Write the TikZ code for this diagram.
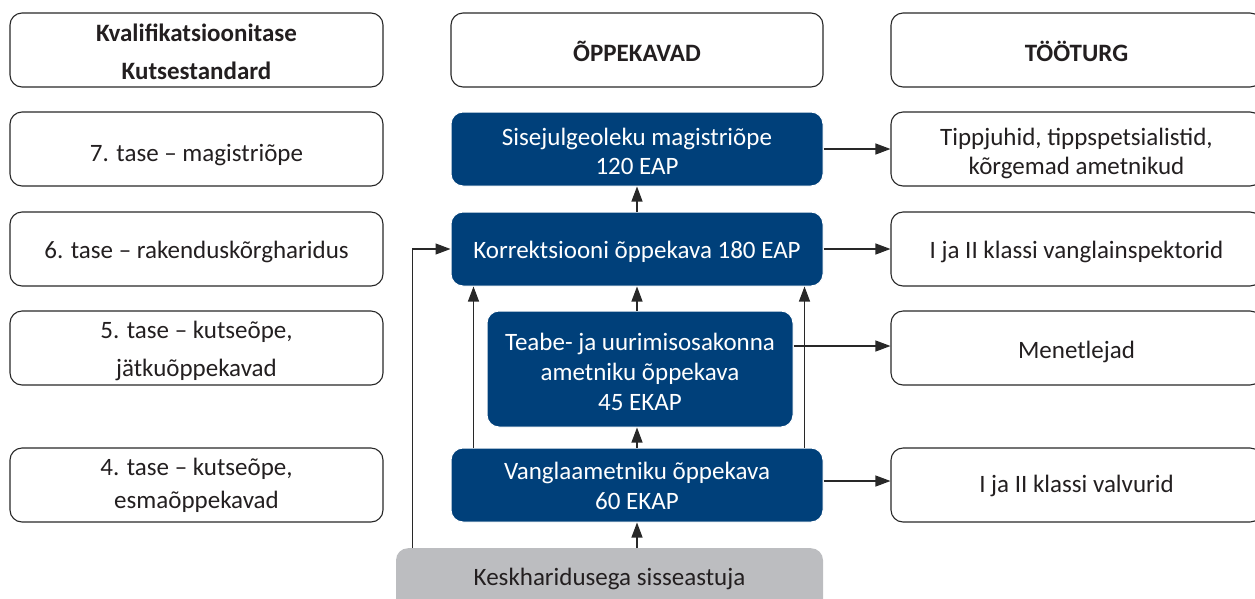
\documentclass[tikz,border=0pt]{standalone}
\usepackage{fontspec}
\setmainfont{Carlito}
\usetikzlibrary{arrows.meta}
\definecolor{navy}{RGB}{0,64,122}
\definecolor{lgray}{RGB}{188,189,192}
\definecolor{txtg}{RGB}{35,31,32}
\definecolor{linec}{RGB}{40,40,40}
\begin{document}
\begin{tikzpicture}[x=1pt,y=-1pt,
  base/.style={rounded corners=12pt,align=center,inner sep=0pt},
  wbox/.style={base,draw=linec,line width=1.1pt,fill=white,minimum height=74pt},
  bbox/.style={base,draw=white,line width=1pt,fill=navy,minimum height=74pt},
  lbl/.style={align=center,inner sep=0pt},
  arr/.style={draw=linec,line width=1.1pt,-{Triangle[length=15pt,width=11pt]}}]
\useasboundingbox (0,0) rectangle (1255,598);
% left column
\node[wbox,minimum width=373pt] (lh) at (196.5,50) {};
\node[lbl,font=\fontsize{25}{38}\selectfont\bfseries,text=txtg] at ([yshift=-2pt]lh.center) {Kvalifikatsioonitase\\Kutsestandard};
\node[wbox,minimum width=373pt] (l7) at (196.5,149) {};
\node[lbl,font=\fontsize{25}{29}\selectfont,text=txtg] at ([yshift=-6pt]l7.center) {7. tase – magistriõpe};
\node[wbox,minimum width=373pt] (l6) at (196.5,249) {};
\node[lbl,font=\fontsize{25}{29}\selectfont,text=txtg] at ([yshift=-3pt]l6.center) {6. tase – rakenduskõrgharidus};
\node[wbox,minimum width=373pt] (l5) at (196.5,348) {};
\node[lbl,font=\fontsize{25}{38}\selectfont,text=txtg] at ([yshift=-3pt]l5.center) {5. tase – kutseõpe,\\jätkuõppekavad};
\node[wbox,minimum width=373pt] (l4) at (196.5,485) {};
\node[lbl,font=\fontsize{25}{33}\selectfont,text=txtg] at ([yshift=0pt]l4.center) {4. tase – kutseõpe,\\esmaõppekavad};
% middle column
\node[wbox,minimum width=372pt] (mh) at (637,50) {};
\node[lbl,font=\fontsize{25}{29}\selectfont\bfseries,text=txtg] at ([yshift=-1pt]mh.center) {ÕPPEKAVAD};
\node[bbox,minimum width=372pt] (sis) at (637,149) {};
\node[lbl,font=\fontsize{25}{29}\selectfont,text=white] at ([yshift=-2pt]sis.center) {Sisejulgeoleku magistriõpe\\120 EAP};
\node[bbox,minimum width=372pt] (kor) at (637,249) {};
\node[lbl,font=\fontsize{25}{29}\selectfont,text=white] at ([yshift=-3pt]kor.center) {Korrektsiooni õppekava 180 EAP};
\node[bbox,minimum width=306pt,minimum height=116pt] (teabe) at (640,369) {};
\node[lbl,font=\fontsize{25}{30}\selectfont,text=white] at ([yshift=-3pt]teabe.center) {Teabe- ja uurimisosakonna\\ametniku õppekava\\45 EKAP};
\node[bbox,minimum width=372pt] (van) at (637,485) {};
\node[lbl,font=\fontsize{25}{30}\selectfont,text=white] at ([yshift=-1pt]van.center) {Vanglaametniku õppekava\\60 EKAP};
\node[base,fill=lgray,minimum width=427pt,minimum height=66pt,anchor=north] (gray) at (609.5,548) {};
\node[lbl,font=\fontsize{25}{29}\selectfont,text=txtg] (graytxt) at (609.5,579) {Keskharidusega sisseastuja};
% right column
\node[wbox,minimum width=371pt] (rh) at (1076.5,50) {};
\node[lbl,font=\fontsize{25}{29}\selectfont\bfseries,text=txtg] at ([yshift=-1pt]rh.center) {TÖÖTURG};
\node[wbox,minimum width=371pt] (tip) at (1076.5,149) {};
\node[lbl,font=\fontsize{25}{29}\selectfont,text=txtg] at ([yshift=-4pt]tip.center) {Tippjuhid, tippspetsialistid,\\kõrgemad ametnikud};
\node[wbox,minimum width=371pt] (insp) at (1076.5,249) {};
\node[lbl,font=\fontsize{25}{29}\selectfont,text=txtg] at ([yshift=-3pt]insp.center) {I ja II klassi vanglainspektorid};
\node[wbox,minimum width=371pt] (men) at (1076.5,348) {};
\node[lbl,font=\fontsize{25}{29}\selectfont,text=txtg] at ([yshift=-4pt]men.center) {Menetlejad};
\node[wbox,minimum width=371pt] (val) at (1076.5,485) {};
\node[lbl,font=\fontsize{25}{29}\selectfont,text=txtg] at ([yshift=-1pt]val.center) {I ja II klassi valvurid};
% horizontal arrows
\draw[arr] (sis.east) -- (tip.west);
\draw[arr] (kor.east) -- (insp.west);
\draw[arr] ([yshift=2pt]teabe.east |- men.west) -- ([yshift=2pt]men.west);
\draw[arr] ([yshift=4pt]van.east) -- ([yshift=4pt]val.west);
% vertical arrows
\draw[arr] (kor.north) -- (sis.south);
\draw[arr] (kor.south |- teabe.north) -- (kor.south);
\draw[arr] (van.north) -- (van.north |- teabe.south);
\draw[arr] (van.south |- gray.north) -- (van.south);
\coordinate (vl) at ([xshift=23pt]van.north west);
\coordinate (vr) at ([xshift=-19pt]van.north east);
\draw[arr] (vl) -- (vl |- kor.south);
\draw[arr] (vr) -- (vr |- kor.south);
\coordinate (gl) at ([xshift=17pt]gray.north west);
\draw[arr] (gl) |- (kor.west);
\end{tikzpicture}
\end{document}
